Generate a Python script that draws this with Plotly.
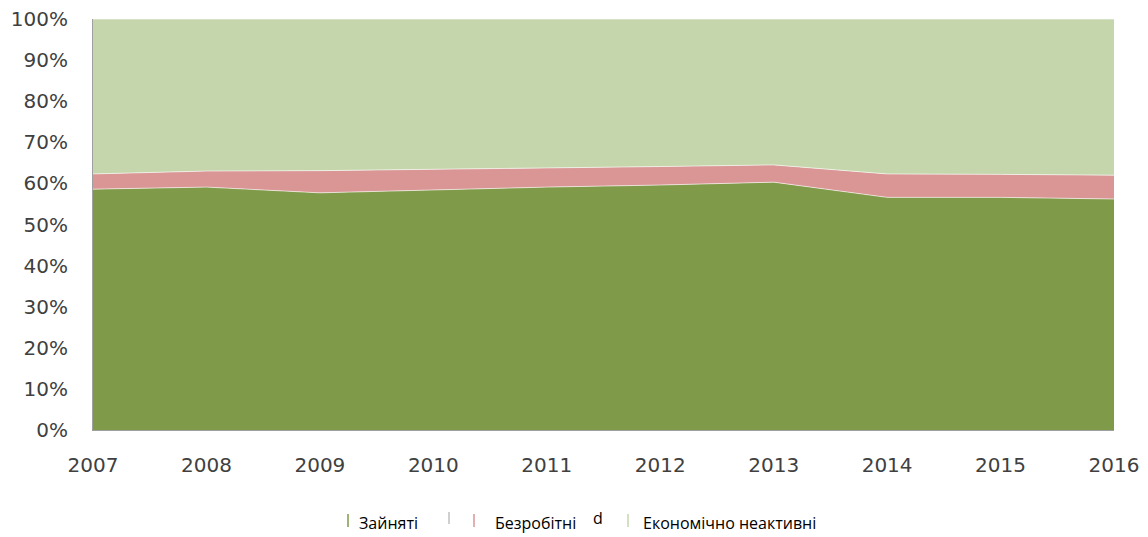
import plotly.graph_objects as go

years = [2007, 2008, 2009, 2010, 2011, 2012, 2013, 2014, 2015, 2016]
employed = [58.6, 59.1, 57.7, 58.4, 59.1, 59.6, 60.3, 56.6, 56.6, 56.2]
unemployed = [3.7, 3.9, 5.4, 5.0, 4.7, 4.5, 4.2, 5.7, 5.6, 5.8]
inactive = [round(100 - e - u, 1) for e, u in zip(employed, unemployed)]

names = ["Зайняті", "Безробітні", "Економічно неактивні"]
colors = ["#7F9A48", "#D99694", "#C5D6AC"]
y_ticks = [0, 10, 20, 30, 40, 50, 60, 70, 80, 90, 100]
y_labels = [f"{v}%" for v in y_ticks]

TICK_FONT = "DejaVu Sans"
LEG_FONT = "Open Sans"

fig = go.Figure()
for name, vals, col in zip(names, [employed, unemployed, inactive], colors):
    fig.add_trace(go.Scatter(
        x=years, y=vals, name=name, mode="lines", stackgroup="one",
        line=dict(width=1, color="rgba(255,255,255,0.6)"),
        fillcolor=col, hoverinfo="x+y+name",
    ))

OFF = 8  # default page body margin
W, H = 1148 - OFF, 537 - OFF
L, R, T, B = 93 - OFF, 1114 - OFF, 19 - OFF, 430 - OFF

fig.update_layout(
    width=W, height=H,
    margin=dict(l=L, r=W - R, t=T, b=H - B),
    plot_bgcolor="white", paper_bgcolor="white",
    showlegend=False,
    font=dict(family=TICK_FONT, color="#404040"),
)
fig.update_xaxes(
    range=[years[0], years[-1]], tickvals=years, ticktext=[str(y) for y in years],
    showgrid=False, zeroline=False, showline=True, linecolor="#A0A0A0", linewidth=1,
    ticks="outside", ticklen=17, tickcolor="rgba(0,0,0,0)",
    ticklabeloverflow="allow", automargin=False,
    tickfont=dict(family=TICK_FONT, size=20, color="#404040"),
)
fig.update_yaxes(
    range=[0, 100], tickvals=y_ticks, ticktext=y_labels,
    showgrid=False, zeroline=False, showline=True, linecolor="#A0A0A0", linewidth=1,
    ticks="outside", ticklen=20, tickcolor="rgba(0,0,0,0)",
    ticklabeloverflow="allow", automargin=False,
    tickfont=dict(family=TICK_FONT, size=20, color="#404040"),
)

def px(x):
    return (x - OFF - L) / (R - L)

def py(y):
    return (B - (y - OFF)) / (B - T)

# legend (custom, mimicking the original)
legend_items = [
    (348, "#7F9A48", 357, "Зайняті"),
    (474, "#D99694", 493, "Безробітні"),
    (628, "#C5D6AC", 641, "Економічно неактивні"),
]
for tick_x, col, text_x, label in legend_items:
    fig.add_shape(type="line", xref="paper", yref="paper",
                  x0=px(tick_x), x1=px(tick_x), y0=py(527), y1=py(514),
                  line=dict(color=col, width=1.5))
    fig.add_annotation(xref="paper", yref="paper", x=px(text_x), y=py(523),
                       text=label, showarrow=False, xanchor="left", yanchor="middle",
                       font=dict(family=LEG_FONT, size=16, color="#000000"))
fig.add_shape(type="line", xref="paper", yref="paper",
              x0=px(449), x1=px(449), y0=py(524), y1=py(512),
              line=dict(color="#A0A0A0", width=1))
fig.add_annotation(xref="paper", yref="paper", x=px(598), y=py(518),
                   text="d", showarrow=False, xanchor="center", yanchor="middle",
                   font=dict(family=LEG_FONT, size=16, color="#000000"))

fig.write_html("out.html")
